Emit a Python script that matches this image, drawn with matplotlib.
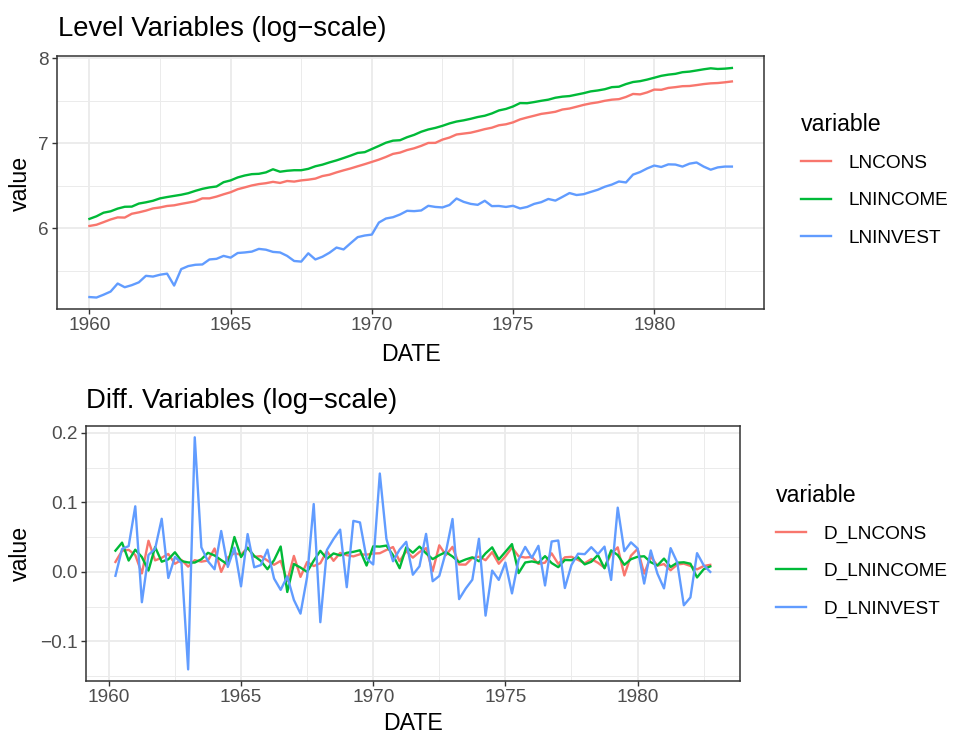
import numpy as np
import matplotlib.pyplot as plt
from matplotlib.ticker import FixedLocator

plt.rcParams['font.family'] = ['Liberation Sans', 'DejaVu Sans']

# quarterly data 1960Q1 - 1982Q4
invest = [180, 179, 185, 192, 211, 202, 207, 214, 231, 229, 234, 237,
          206, 250, 259, 263, 264, 280, 282, 292, 286, 302, 304, 307,
          317, 314, 306, 304, 292, 275, 273, 301, 280, 289, 303, 322,
          315, 339, 364, 371, 375, 432, 453, 460, 475, 496, 494, 498,
          526, 519, 516, 531, 573, 551, 538, 532, 558, 524, 525, 519,
          526, 510, 519, 538, 549, 570, 559, 584, 611, 597, 603, 619,
          635, 658, 675, 700, 692, 759, 782, 816, 844, 830, 856, 854,
          834, 863, 875, 834, 804, 826, 834, 834]
income = [451, 465, 485, 493, 509, 520, 521, 540, 548, 558, 574, 583,
          591, 599, 610, 627, 642, 653, 660, 694, 709, 734, 751, 763,
          766, 779, 808, 785, 794, 799, 799, 812, 837, 853, 876, 897,
          922, 949, 979, 988, 1025, 1063, 1104, 1131, 1137, 1178, 1211, 1256,
          1290, 1314, 1346, 1385, 1416, 1436, 1462, 1493, 1516, 1557, 1613, 1642,
          1690, 1759, 1756, 1780, 1807, 1831, 1873, 1897, 1910, 1943, 1976, 2018,
          2040, 2070, 2121, 2132, 2199, 2253, 2276, 2318, 2369, 2423, 2457, 2480,
          2528, 2546, 2580, 2616, 2647, 2626, 2636, 2657]
cons = [415, 421, 434, 448, 459, 458, 479, 487, 497, 510, 516, 525,
        529, 538, 546, 555, 574, 574, 586, 602, 617, 639, 653, 668,
        679, 686, 697, 688, 704, 699, 709, 715, 724, 746, 758, 779,
        798, 816, 837, 858, 881, 905, 934, 968, 983, 1013, 1034, 1064,
        1101, 1102, 1145, 1173, 1216, 1229, 1242, 1267, 1295, 1317, 1355, 1371,
        1402, 1452, 1485, 1516, 1549, 1567, 1588, 1631, 1650, 1685, 1722, 1752,
        1774, 1807, 1831, 1842, 1890, 1958, 1948, 1994, 2061, 2056, 2102, 2121,
        2145, 2150, 2173, 2199, 2218, 2226, 2245, 2268]

level_names = ['LNCONS', 'LNINCOME', 'LNINVEST']
diff_names = ['D_LNCONS', 'D_LNINCOME', 'D_LNINVEST']
colors = ['#F8766D', '#00BA38', '#619CFF']

date = 1960 + np.arange(len(cons)) / 4
levels = [np.log(cons), np.log(income), np.log(invest)]
diffs = [np.diff(v) for v in levels]

xticks = [1960, 1965, 1970, 1975, 1980]
xminor = [1957.5, 1962.5, 1967.5, 1972.5, 1977.5, 1982.5]
yticks_lvl = [6, 7, 8]
yminor_lvl = [5.5, 6.5, 7.5]
yticks_diff = [-0.1, 0.0, 0.1, 0.2]
ylabels_diff = ['\u22120.1', '0.0', '0.1', '0.2']
yminor_diff = [-0.15, -0.05, 0.05, 0.15]

W, H = 954, 735
fig = plt.figure(figsize=(W / 100, H / 100), dpi=100)


def style(ax):
    for s in ax.spines.values():
        s.set_color('#333333')
        s.set_linewidth(1.1)
    ax.grid(which='major', color='#EBEBEB', lw=1.3)
    ax.grid(which='minor', color='#EBEBEB', lw=0.7)
    ax.set_axisbelow(True)
    ax.tick_params(which='major', length=3.5, width=1.0, color='#333333',
                   labelsize=13.7, labelcolor='#4D4D4D', pad=2.5)
    ax.tick_params(which='minor', length=0)


ax1 = fig.add_axes([57.3 / W, 1 - 309 / H, (764 - 57.3) / W, (309 - 56.5) / H])
for v, n, c in zip(levels, level_names, colors):
    ax1.plot(date, v, color=c, lw=1.7, label=n)
ax1.set_xticks(xticks)
ax1.xaxis.set_minor_locator(FixedLocator(xminor))
ax1.set_yticks(yticks_lvl)
ax1.yaxis.set_minor_locator(FixedLocator(yminor_lvl))
ax1.set_xlim(1960 - 0.05 * 22.75, 1982.75 + 0.05 * 22.75)
style(ax1)

ax2 = fig.add_axes([85.7 / W, 1 - 681 / H, (740 - 85.7) / W, (681 - 425.7) / H])
for v, n, c in zip(diffs, diff_names, colors):
    ax2.plot(date[1:], v, color=c, lw=1.7, label=n)
ax2.set_xticks(xticks)
ax2.xaxis.set_minor_locator(FixedLocator(xminor))
ax2.set_yticks(yticks_diff)
ax2.set_yticklabels(ylabels_diff)
ax2.yaxis.set_minor_locator(FixedLocator(yminor_diff))
ax2.set_xlim(1960.25 - 0.05 * 22.5, 1982.75 + 0.05 * 22.5)
style(ax2)

# titles and axis labels
fig.text(58 / W, 1 - 36 / H, 'Level Variables (log\u2212scale)', fontsize=19.8, va='baseline')
fig.text(86 / W, 1 - 408 / H, 'Diff. Variables (log\u2212scale)', fontsize=19.8, va='baseline')
fig.text(410.7 / W, 1 - 361 / H, 'DATE', fontsize=16.7, ha='center', va='baseline')
fig.text(412.8 / W, 1 - 730 / H, 'DATE', fontsize=16.7, ha='center', va='baseline')
fig.text(20 / W, 1 - 183 / H, 'value', fontsize=16.7, rotation=90, ha='center', va='center')
fig.text(20 / W, 1 - 553 / H, 'value', fontsize=16.7, rotation=90, ha='center', va='center')

for ax, x0, yc in [(ax1, 801, 180), (ax2, 776, 551)]:
    leg = ax.legend(title='variable', loc='center left', frameon=False,
                    bbox_to_anchor=(x0 / W, 1 - yc / H), bbox_transform=fig.transFigure,
                    fontsize=13.7, title_fontsize=16.7, handlelength=1.6,
                    handletextpad=0.9, labelspacing=1.06, alignment='left',
                    borderpad=0, borderaxespad=0)
    leg._legend_box.sep = 13

fig.savefig('out.png', dpi=100)
